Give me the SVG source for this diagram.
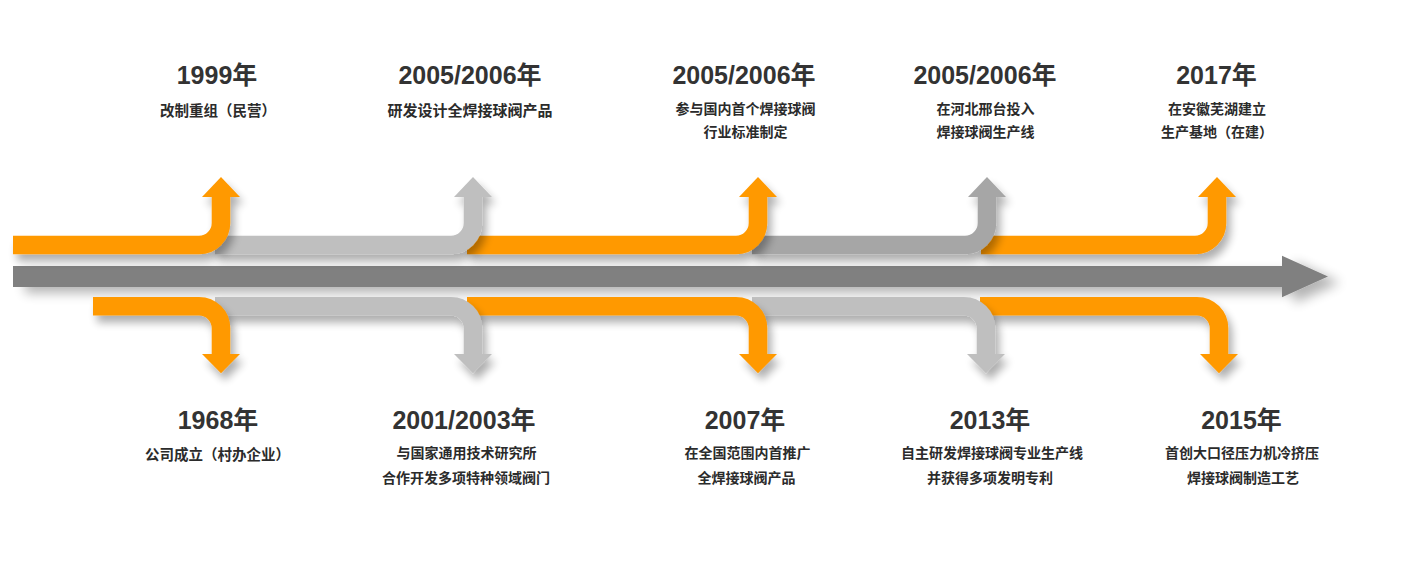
<svg xmlns="http://www.w3.org/2000/svg" width="1403" height="572" viewBox="0 0 1403 572">
<defs>
<filter id="sh" filterUnits="userSpaceOnUse" x="0" y="0" width="1403" height="572">
<feGaussianBlur in="SourceAlpha" stdDeviation="4.5"/>
<feOffset dx="4" dy="7" result="b"/>
<feComponentTransfer><feFuncA type="linear" slope="0.32"/></feComponentTransfer>
<feMerge><feMergeNode/><feMergeNode in="SourceGraphic"/></feMerge>
</filter>
<filter id="shMain" filterUnits="userSpaceOnUse" x="0" y="0" width="1403" height="572">
<feGaussianBlur in="SourceAlpha" stdDeviation="6"/>
<feOffset dx="12" dy="6"/>
<feComponentTransfer><feFuncA type="linear" slope="0.3"/></feComponentTransfer>
<feMerge><feMergeNode/><feMergeNode in="SourceGraphic"/></feMerge>
</filter>
</defs>
<style>
.band{fill:none;stroke-width:18.6;stroke-linecap:butt}
.o .band{stroke:#ff9900}.o polygon{fill:#ff9900}
.g .band{stroke:#bfbfbf}.g polygon{fill:#bfbfbf}
.d .band{stroke:#a6a6a6}.d polygon{fill:#a6a6a6}
.yr{font-family:"Liberation Sans","Noto Sans CJK SC",sans-serif;font-weight:bold;font-size:25px;fill:#333;text-anchor:middle}
.ds{font-family:"Noto Sans CJK SC","Liberation Sans",sans-serif;font-weight:bold;font-size:14px;fill:#2b2b2b;text-anchor:middle}
</style>
<rect width="1403" height="572" fill="#fff"/>
<g id="connectors">
<g filter="url(#shMain)">
<rect x="13" y="266" width="1270" height="21" fill="#808080"/>
<polygon points="1282,255.7 1328,276.5 1282,297.3" fill="#808080"/>
</g>
<g class="o" filter="url(#sh)">
<path class="band" d="M981 245 H1195 A22 22 0 0 0 1217 223 V196"/>
<polygon points="1198,197 1217,177 1236,197"/>
</g>
<g class="d" filter="url(#sh)">
<path class="band" d="M752 245 H965 A22 22 0 0 0 987 223 V196"/>
<polygon points="968,197 987,177 1006,197"/>
</g>
<g class="o" filter="url(#sh)">
<path class="band" d="M467 245 H736 A22 22 0 0 0 758 223 V196"/>
<polygon points="739,197 758,177 777,197"/>
</g>
<g class="g" filter="url(#sh)">
<path class="band" d="M215 245 H451 A22 22 0 0 0 473 223 V196"/>
<polygon points="454,197 473,177 492,197"/>
</g>
<g class="o" filter="url(#sh)">
<path class="band" d="M13 245 H199 A22 22 0 0 0 221 223 V196"/>
<polygon points="202,197 221,177 240,197"/>
</g>
<g class="o" filter="url(#sh)">
<path class="band" d="M980 306.2 H1197 A22 22 0 0 1 1219 328.2 V355"/>
<polygon points="1200,354 1219,373.3 1238,354"/>
</g>
<g class="g" filter="url(#sh)">
<path class="band" d="M752 306.2 H964 A22 22 0 0 1 986 328.2 V355"/>
<polygon points="967,354 986,373.3 1005,354"/>
</g>
<g class="o" filter="url(#sh)">
<path class="band" d="M467 306.2 H736 A22 22 0 0 1 758 328.2 V355"/>
<polygon points="739,354 758,373.3 777,354"/>
</g>
<g class="g" filter="url(#sh)">
<path class="band" d="M215 306.2 H451 A22 22 0 0 1 473 328.2 V355"/>
<polygon points="454,354 473,373.3 492,354"/>
</g>
<g class="o" filter="url(#sh)">
<path class="band" d="M93 306.2 H199 A22 22 0 0 1 221 328.2 V355"/>
<polygon points="202,354 221,373.3 240,354"/>
</g>
</g>
<g id="node-1999">
<text class="yr" x="217" y="84">1999年</text>
<text class="ds" x="218" y="116" style="font-size:14.5px">改制重组（民营）</text>
</g>
<g id="node-2005a">
<text class="yr" x="470" y="84">2005/2006年</text>
<text class="ds" x="470" y="116" style="font-size:15px">研发设计全焊接球阀产品</text>
</g>
<g id="node-2005b">
<text class="yr" x="744" y="84">2005/2006年</text>
<text class="ds" x="745.5" y="114">参与国内首个焊接球阀</text>
<text class="ds" x="745.5" y="137">行业标准制定</text>
</g>
<g id="node-2005c">
<text class="yr" x="985" y="84">2005/2006年</text>
<text class="ds" x="985.5" y="114">在河北邢台投入</text>
<text class="ds" x="985.5" y="137">焊接球阀生产线</text>
</g>
<g id="node-2017">
<text class="yr" x="1216.5" y="84">2017年</text>
<text class="ds" x="1217" y="114">在安徽芜湖建立</text>
<text class="ds" x="1217" y="137">生产基地（在建）</text>
</g>
<g id="node-1968">
<text class="yr" x="218" y="429">1968年</text>
<text class="ds" x="217.5" y="460" style="font-size:14.5px">公司成立（村办企业）</text>
</g>
<g id="node-2001">
<text class="yr" x="464" y="429">2001/2003年</text>
<text class="ds" x="466.5" y="458">与国家通用技术研究所</text>
<text class="ds" x="466" y="483">合作开发多项特种领域阀门</text>
</g>
<g id="node-2007">
<text class="yr" x="745" y="429">2007年</text>
<text class="ds" x="747.5" y="458">在全国范围内首推广</text>
<text class="ds" x="746.5" y="483">全焊接球阀产品</text>
</g>
<g id="node-2013">
<text class="yr" x="990" y="429">2013年</text>
<text class="ds" x="992" y="458">自主研发焊接球阀专业生产线</text>
<text class="ds" x="990" y="483">并获得多项发明专利</text>
</g>
<g id="node-2015">
<text class="yr" x="1241.5" y="429">2015年</text>
<text class="ds" x="1242" y="458">首创大口径压力机冷挤压</text>
<text class="ds" x="1243" y="483">焊接球阀制造工艺</text>
</g>
</svg>
